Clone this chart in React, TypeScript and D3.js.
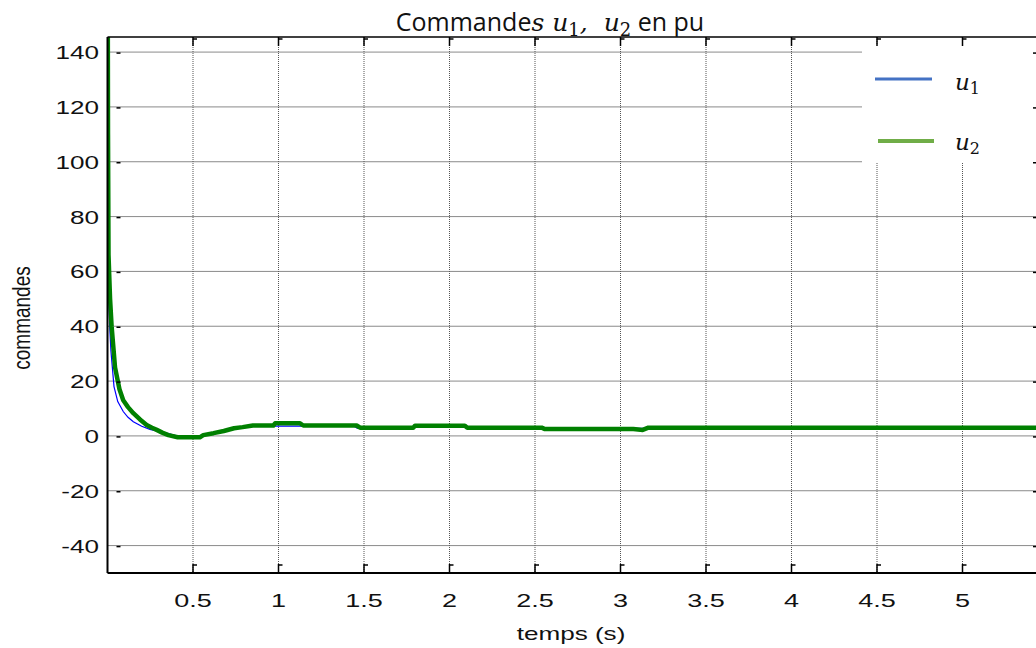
import React from 'react';
import * as d3 from 'd3';

// temps (s) / commandes (pu)
const tU1 = [0, 0.003, 0.006, 0.012, 0.02, 0.038, 0.06, 0.092, 0.12, 0.151, 0.2, 0.248, 0.3, 0.346, 0.405, 0.54, 0.56, 0.62, 0.68, 0.74, 0.79, 0.85, 1.44, 1.46, 1.79, 1.8, 2.09, 2.104, 2.54, 2.558, 3.075, 3.163, 5.5];
const u1 = [210, 95, 55, 41, 31, 18, 12.5, 8.9, 6.8, 5.2, 3.5, 2.4, 1.6, 1, 0, 0, 0.5, 1.2, 2, 2.8, 3.2, 3.6, 3.6, 2.8, 2.8, 3.6, 3.6, 3.0, 3.0, 2.8, 2.8, 2.8, 2.8];
const tU2 = [0, 0.003, 0.006, 0.015, 0.024, 0.044, 0.07, 0.092, 0.12, 0.151, 0.19, 0.229, 0.26, 0.288, 0.32, 0.356, 0.41, 0.54, 0.56, 0.62, 0.68, 0.74, 0.79, 0.85, 0.97, 0.98, 1.126, 1.145, 1.457, 1.477, 1.788, 1.798, 2.09, 2.104, 2.539, 2.558, 3.075, 3.13, 3.163, 5.5];
const u2 = [210, 110, 66, 50, 40, 25, 17, 13, 10.5, 8.3, 6, 4, 3, 2.2, 1.2, 0.3, -0.5, -0.5, 0.3, 1, 1.8, 2.8, 3.2, 3.8, 3.8, 4.6, 4.6, 3.8, 3.8, 3.0, 3.0, 3.7, 3.7, 3.0, 3.0, 2.5, 2.5, 2.2, 3.0, 3.0];

const xTicks = [0.5, 1, 1.5, 2, 2.5, 3, 3.5, 4, 4.5, 5];
const yTicks = [140, 120, 100, 80, 60, 40, 20, 0, -20, -40];

const W = 1036, H = 648;
const left = 107.5, right = 1048, top = 37, bottom = 573;

const App = () => {
  const x = d3.scaleLinear().domain([0, 5.5]).range([left, right]);
  const y = d3.scaleLinear().domain([-50, 145.5]).range([bottom, top]);

  const line = d3.line<[number, number]>()
    .x(d => x(d[0]))
    .y(d => y(d[1]));

  const d1 = line(tU1.map((t, i) => [t, u1[i]] as [number, number])) || '';
  const d2 = line(tU2.map((t, i) => [t, u2[i]] as [number, number])) || '';

  const lab = { fontFamily: '"Liberation Sans", Arial, sans-serif', fontSize: 18, fill: '#111' };
  const math = { fontFamily: '"DejaVu Serif", serif', fontStyle: 'italic' as const };

  return (
    <svg width={W} height={H} style={{ display: 'block', position: 'absolute', left: 0, top: 0, background: '#fff' }}>
      <defs>
        <clipPath id="plot">
          <rect x={left} y={top} width={right - left} height={bottom - top} />
        </clipPath>
      </defs>
      <rect x={0} y={0} width={W} height={H} fill="#fff" />

      {/* grille */}
      {yTicks.map(v => (
        <line key={'gy' + v} x1={left} x2={right} y1={y(v)} y2={y(v)} stroke="#8a8a8a" strokeWidth={1} />
      ))}
      {xTicks.map(v => (
        <line key={'gx' + v} x1={x(v)} x2={x(v)} y1={top} y2={bottom} stroke="#555" strokeWidth={1} strokeDasharray="1,1" />
      ))}

      {/* légende (fond blanc sur la grille) */}
      <rect x={862} y={45} width={180} height={118} fill="#fff" />
      <line x1={875} x2={932} y1={79} y2={79} stroke="#4472C4" strokeWidth={3} />
      <line x1={878} x2={934} y1={141} y2={141} stroke="#70AD47" strokeWidth={4} />
      <text x={955} y={90} style={math} fontSize={23} fill="#111">u<tspan fontStyle="normal" fontSize={16} dy={4}>1</tspan></text>
      <text x={955} y={150} style={math} fontSize={23} fill="#111">u<tspan fontStyle="normal" fontSize={16} dy={4}>2</tspan></text>

      {/* courbes */}
      <g clipPath="url(#plot)">
        <path d={d1} fill="none" stroke="#0000ff" strokeWidth={1.2} />
        <path d={d2} fill="none" stroke="#008000" strokeWidth={4.5} strokeLinejoin="round" />
      </g>

      {/* cadre */}
      <line x1={left} x2={right} y1={top} y2={top} stroke="#000" strokeWidth={1.5} />
      <line x1={left} x2={left} y1={top} y2={bottom} stroke="#000" strokeWidth={2} />
      <line x1={left} x2={right} y1={bottom} y2={bottom} stroke="#000" strokeWidth={2} />

      {/* graduations */}
      {xTicks.map(v => (
        <g key={'tx' + v} stroke="#000" strokeWidth={1.5}>
          <line x1={x(v)} x2={x(v)} y1={top} y2={top + 9} />
          <line x1={x(v)} x2={x(v) + 4} y1={top + 2} y2={top + 2} />
          <line x1={x(v)} x2={x(v)} y1={bottom} y2={bottom - 9} />
          <line x1={x(v)} x2={x(v) + 4} y1={bottom - 8} y2={bottom - 8} />
        </g>
      ))}
      {yTicks.map(v => (
        <g key={'ty' + v} stroke="#000" strokeWidth={1.5}>
          <line x1={left + 9} x2={left + 13} y1={y(v) + 1} y2={y(v) + 1} />
          <line x1={right - 15} x2={right - 9} y1={y(v) + 1} y2={y(v) + 1} />
        </g>
      ))}

      {/* étiquettes */}
      {yTicks.map(v => (
        <g key={'ly' + v} transform={`translate(99,${y(v) + 7}) scale(1.45,1)`}>
          <text textAnchor="end" style={lab}>{v}</text>
        </g>
      ))}
      {xTicks.map(v => (
        <g key={'lx' + v} transform={`translate(${x(v)},607) scale(1.5,1)`}>
          <text textAnchor="middle" style={lab}>{v}</text>
        </g>
      ))}
      <g transform="translate(571,640) scale(1.45,1)">
        <text textAnchor="middle" style={lab}>temps (s)</text>
      </g>
      <g transform="translate(30,318) scale(1.25,1) rotate(-90)">
        <text textAnchor="middle" style={{ ...lab, fontSize: 19 }}>commandes</text>
      </g>

      {/* titre */}
      <text x={550} y={31} textAnchor="middle" fontFamily='"Open Sans", "Noto Sans", sans-serif' fontSize={25} fill="#111">
        Commande<tspan style={math}>s u</tspan><tspan fontFamily='"DejaVu Serif", serif' fontSize={18} dy={5}>1</tspan>
        <tspan dy={-5} style={math}>,{'\u00a0\u00a0'}u</tspan><tspan fontFamily='"DejaVu Serif", serif' fontSize={18} dy={5}>2</tspan>
        <tspan dy={-5}>{'\u00a0'}en pu</tspan>
      </text>
    </svg>
  );
};

export default App;
